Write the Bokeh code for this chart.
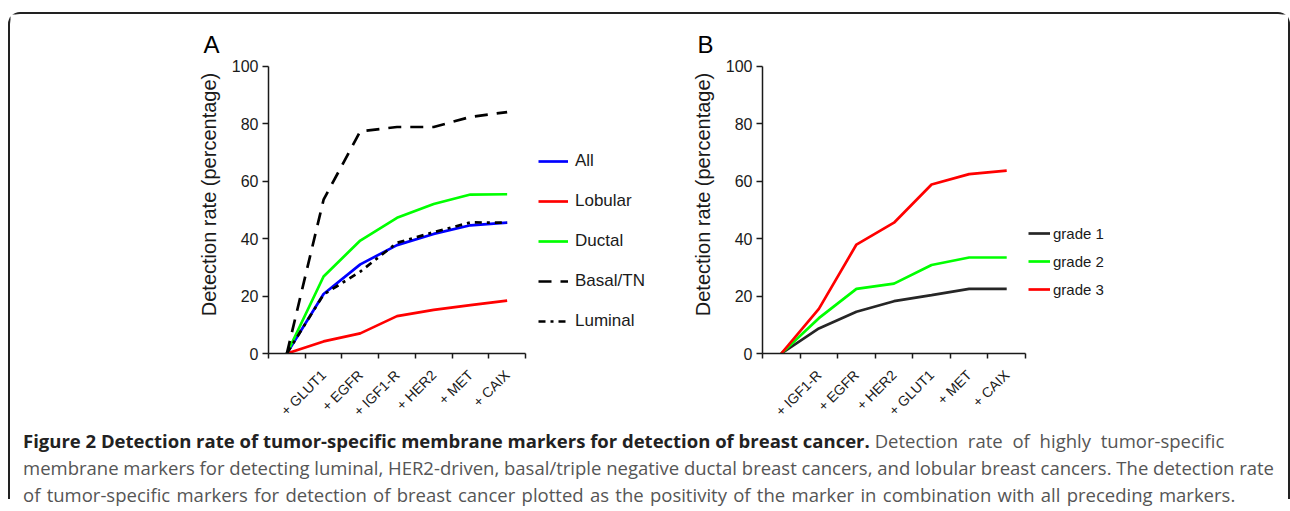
import math
from bokeh.plotting import figure
from bokeh.models import Range1d, FixedTicker, Legend, LegendItem, Label, Div
from bokeh.layouts import row, column
from bokeh.embed import file_html
from bokeh.resources import INLINE

# ---------------- data ----------------
markers_a = ["", "+ GLUT1", "+ EGFR", "+ IGF1-R", "+ HER2", "+ MET", "+ CAIX"]
all_a = [0, 20.7, 31.0, 37.7, 41.6, 44.6, 45.5]
lobular_a = [0, 4.2, 7.0, 13.0, 15.2, 16.8, 18.4]
ductal_a = [0, 26.8, 39.3, 47.2, 52.0, 55.3, 55.4]
basal_a = [0, 53.5, 77.3, 78.8, 78.8, 82.3, 84.0]
luminal_a = [0, 20.5, 28.5, 38.5, 42.2, 45.6, 45.5]

markers_b = ["", "+ IGF1-R", "+ EGFR", "+ HER2", "+ GLUT1", "+ MET", "+ CAIX"]
grade1_b = [0, 8.7, 14.5, 18.2, 20.3, 22.5, 22.5]
grade2_b = [0, 12.3, 22.5, 24.3, 30.8, 33.4, 33.4]
grade3_b = [0, 15.5, 37.9, 45.5, 58.8, 62.4, 63.6]

y_ticks = [0, 20, 40, 60, 80, 100]
y_title = "Detection rate (percentage)"
panel_letters = ["A", "B"]

caption_bold = "Figure 2 Detection rate of tumor-specific membrane markers for detection of breast cancer."
caption_lines = [
    "Detection rate of highly tumor-specific",
    "membrane markers for detecting luminal, HER2-driven, basal/triple negative ductal breast cancers, and lobular breast cancers. The detection rate",
    "of tumor-specific markers for detection of breast cancer plotted as the positivity of the marker in combination with all preceding markers.",
]

# ---------------- layout constants (pixels) ----------------
FONT = "Liberation Sans"
AX = "#1a1a1a"
H = 413            # height of the chart row
BOTTOM = 71        # space under the frame for x labels
T_W, A_W, B_W = 216, 494, 568
LEFT = 42          # room for y tick labels
A_AXIS_PX, B_AXIS_PX = 257.0, 263.0   # length of each x axis
Y_AXIS_PX = 290.0                      # length of the y axis (0..100)


def base_fig(width, xr, yr, left=0, bottom=0, axes=True):
    kw = {} if axes else dict(x_axis_type=None, y_axis_type=None)
    p = figure(width=width, height=H, x_range=xr, y_range=yr, output_backend="svg",
               toolbar_location=None, min_border_left=left, min_border_right=0,
               min_border_top=0, min_border_bottom=bottom, **kw)
    p.grid.visible = False
    p.outline_line_color = None
    p.background_fill_color = "white"
    p.border_fill_color = "white"
    return p


def style_axes(p, cats):
    n = len(cats)
    xs = [i + 0.5 for i in range(n)]
    xa = p.xaxis[0]
    xa.bounds = (0, n)
    xa.ticker = FixedTicker(ticks=xs, minor_ticks=list(range(n + 1)))
    xa.major_label_overrides = {x: c for x, c in zip(xs, cats)}
    xa.major_tick_line_color = None
    xa.major_tick_out = 5
    xa.major_tick_in = 0
    xa.minor_tick_out = 5
    xa.minor_tick_in = 0
    xa.minor_tick_line_color = AX
    xa.minor_tick_line_width = 1.5
    xa.axis_line_color = AX
    xa.axis_line_width = 1.5
    xa.major_label_orientation = math.pi / 4
    xa.major_label_standoff = 14
    xa.major_label_text_font = FONT
    xa.major_label_text_font_size = "14px"
    xa.major_label_text_color = AX

    ya = p.yaxis[0]
    ya.bounds = (0, 100)
    ya.ticker = FixedTicker(ticks=y_ticks)
    ya.minor_tick_line_color = None
    ya.major_tick_out = 6
    ya.major_tick_in = 0
    ya.major_tick_line_color = AX
    ya.major_tick_line_width = 1.5
    ya.axis_line_color = AX
    ya.axis_line_width = 1.5
    ya.major_label_standoff = 4
    ya.major_label_text_font = FONT
    ya.major_label_text_font_size = "16px"
    ya.major_label_text_color = AX
    return xs


def letter(p, txt, x, y):
    p.add_layout(Label(x=x, y=y, x_units="screen", y_units="screen", text=txt,
                       text_align="left", text_baseline="alphabetic",
                       text_font=FONT, text_font_size="24px", text_color="black"))


def ytitle(p, x, y):
    p.add_layout(Label(x=x, y=y, x_units="screen", y_units="screen", text=y_title,
                       angle=math.pi / 2, text_align="center", text_baseline="middle",
                       text_font=FONT, text_font_size="20px", text_color=AX))


frame_h = H - BOTTOM
y_top = 100.0 * frame_h / Y_AXIS_PX

# ---------------- left strip: letter A and y title of panel A ----------------
pT = base_fig(T_W, Range1d(0, 1), Range1d(0, 1), axes=False)
letter(pT, panel_letters[0], 193, 309)
ytitle(pT, 198, 159)

# ---------------- panel A ----------------
n_a = len(markers_a)
pA = base_fig(A_W, Range1d(0, n_a * (A_W - LEFT) / A_AXIS_PX), Range1d(0, y_top),
              left=LEFT, bottom=BOTTOM)
xa_pos = style_axes(pA, markers_a)
ra = pA.line(xa_pos, all_a, line_color="#0000ff", line_width=2.7)
rl = pA.line(xa_pos, lobular_a, line_color="#ff0000", line_width=2.7)
rd = pA.line(xa_pos, ductal_a, line_color="#00ff00", line_width=2.7)
rb = pA.line(xa_pos, basal_a, line_color="black", line_width=2.7, line_dash="13 9")
rlu = pA.line(xa_pos, luminal_a, line_color="black", line_width=2.7, line_dash="7 5 3 5")
legA = Legend(items=[LegendItem(label="All", renderers=[ra]),
                     LegendItem(label="Lobular", renderers=[rl]),
                     LegendItem(label="Ductal", renderers=[rd]),
                     LegendItem(label="Basal/TN", renderers=[rb]),
                     LegendItem(label="Luminal", renderers=[rlu])],
              location=(270, 22), padding=0, margin=0, spacing=20,
              glyph_width=30, glyph_height=20, label_height=20, label_standoff=7,
              label_text_font=FONT, label_text_font_size="17px", label_text_color=AX,
              border_line_color=None, background_fill_alpha=0)
pA.add_layout(legA)
# letter B and y title of panel B sit in the gap to the right of panel A
letter(pA, panel_letters[1], 429, 309)
ytitle(pA, 434, 159)

# ---------------- panel B ----------------
n_b = len(markers_b)
pB = base_fig(B_W, Range1d(0, n_b * (B_W - LEFT) / B_AXIS_PX), Range1d(0, y_top),
              left=LEFT, bottom=BOTTOM)
xb_pos = style_axes(pB, markers_b)
g1 = pB.line(xb_pos, grade1_b, line_color="#262626", line_width=2.7)
g2 = pB.line(xb_pos, grade2_b, line_color="#00ff00", line_width=2.7)
g3 = pB.line(xb_pos, grade3_b, line_color="#ff0000", line_width=2.7)
legB = Legend(items=[LegendItem(label="grade 1", renderers=[g1]),
                     LegendItem(label="grade 2", renderers=[g2]),
                     LegendItem(label="grade 3", renderers=[g3])],
              location=(266, 54), padding=0, margin=0, spacing=8,
              glyph_width=22, glyph_height=20, label_height=20, label_standoff=3,
              label_text_font=FONT, label_text_font_size="15px", label_text_color=AX,
              border_line_color=None, background_fill_alpha=0)
pB.add_layout(legB)

# ---------------- caption ----------------
html = ('<div style="font-family:\'Open Sans\';font-size:18.5px;line-height:27px;color:#555;white-space:nowrap;">'
        '<b style="color:#222;">' + caption_bold + '</b> <span style="word-spacing:5px;">'
        + caption_lines[0] + '</span><br>'
        + caption_lines[1] + '<br><span style="word-spacing:1.5px;">' + caption_lines[2] + '</span></div>')
cap = Div(text=html, width=1265, height=72, margin=(0, 0, 0, 13))

page = column(row(pT, pA, pB), cap, margin=(12, 0, 0, 8),
              styles={"border-top": "2px solid #222", "border-left": "2px solid #222",
                      "border-right": "2px solid #222", "border-top-left-radius": "12px",
                      "border-top-right-radius": "12px", "overflow": "visible"})

open("out.html", "w").write(file_html(page, INLINE))
